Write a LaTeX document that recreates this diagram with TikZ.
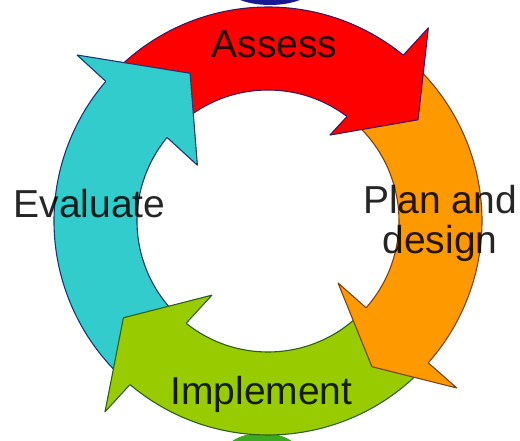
\documentclass[tikz,border=0pt]{standalone}
\usepackage{fontspec}
\setmainfont{Liberation Sans}
\usetikzlibrary{calc}
\definecolor{assessfill}{RGB}{255, 0, 0}
\definecolor{assessline}{RGB}{70, 20, 90}
\definecolor{planfill}{RGB}{255, 153, 0}
\definecolor{planline}{RGB}{125, 65, 20}
\definecolor{implfill}{RGB}{153, 204, 0}
\definecolor{implline}{RGB}{45, 95, 20}
\definecolor{evalfill}{RGB}{51, 204, 204}
\definecolor{evalline}{RGB}{25, 55, 115}
\definecolor{topblob}{RGB}{25, 25, 150}
\definecolor{bottomblob}{RGB}{60, 170, 30}
\tikzset{
  band/.style={line width=1.1pt, line join=round},
  stagelabel/.style={
    font=\fontsize{39}{40}\selectfont, text=black, text opacity=0.85,
    inner sep=0pt
  }
}

\begin{document}
\begin{tikzpicture}[x=1pt, y=1pt]

  %% ---- frame, ring centred on the origin ----
  \clip (-268,-220) rectangle (252,221);

  %% ---- bits of the shapes above and below ----
  \fill[topblob] (2,236) ellipse[x radius=45, y radius=20];
  \fill[bottomblob] (-6,-232) ellipse[x radius=37, y radius=20];

  %% ---- ring bodies (heads go on top afterwards) ----
  \filldraw[band, fill=evalfill, draw=evalline]
    (227:214) arc[start angle=227, end angle=135, radius=214]
    -- (135:131) arc[start angle=135, end angle=227, radius=131] -- cycle;
  \filldraw[band, fill=assessfill, draw=assessline]
    (135:214) arc[start angle=135, end angle=48, radius=214]
    -- (48:131) arc[start angle=48, end angle=135, radius=131] -- cycle;
  \filldraw[band, fill=planfill, draw=planline]
    (48:214) arc[start angle=48, end angle=-44.5, radius=214]
    -- (-44.5:131) arc[start angle=-44.5, end angle=48, radius=131] -- cycle;
  \filldraw[band, fill=implfill, draw=implline]
    (-44.5:214) arc[start angle=-44.5, end angle=-133, radius=214]
    -- (-133:131) arc[start angle=-133, end angle=-44.5, radius=131] -- cycle;

  %% ---- arrow heads: outer barb, tip, inner barb ----
  \coordinate (evalOB)  at (139:253);
  \coordinate (evalTip) at (117.8:167);
  \coordinate (evalIB)  at (141.7:90);
  \fill[evalfill] (evalOB) -- (evalTip) -- (evalIB) -- cycle;
  \draw[band, evalline] ($(evalOB)!0.239!(evalIB)$) -- (evalOB)
    -- (evalTip) -- (evalIB) -- ($(evalOB)!0.748!(evalIB)$);

  \coordinate (assessOB)  at (50.3:251);
  \coordinate (assessTip) at (34:181);
  \coordinate (assessIB)  at (54.2:106);
  \fill[assessfill] (assessOB) -- (assessTip) -- (assessIB) -- cycle;
  \draw[band, assessline] ($(assessOB)!0.255!(assessIB)$) -- (assessOB)
    -- (assessTip) -- (assessIB) -- ($(assessOB)!0.828!(assessIB)$);

  \coordinate (planOB)  at (-41.5:252);
  \coordinate (planTip) at (-54.5:179);
  \coordinate (planIB)  at (-41.5:93.5);
  \fill[planfill] (planOB) -- (planTip) -- (planIB) -- cycle;
  \draw[band, planline] ($(planOB)!0.240!(planIB)$) -- (planOB)
    -- (planTip) -- (planIB) -- ($(planOB)!0.763!(planIB)$);

  \coordinate (implOB)  at (229.5:251);
  \coordinate (implTip) at (213.8:174);
  \coordinate (implIB)  at (232.9:93);
  \fill[implfill] (implOB) -- (implTip) -- (implIB) -- cycle;
  \draw[band, implline] ($(implOB)!0.234!(implIB)$) -- (implOB)
    -- (implTip) -- (implIB) -- ($(implOB)!0.759!(implIB)$);

  %% ---- stage labels ----
  \node[stagelabel, anchor=base] (assess) at (6.5,163) {Assess};
  \node[stagelabel, anchor=north, align=center] (plan) at (172,36)
    {Plan and\\design};
  \node[stagelabel, anchor=base] (implement) at (-6.5,-184) {Implement};
  \node[stagelabel, anchor=base] (evaluate) at (-178.5,3) {Evaluate};

\end{tikzpicture}
\end{document}
